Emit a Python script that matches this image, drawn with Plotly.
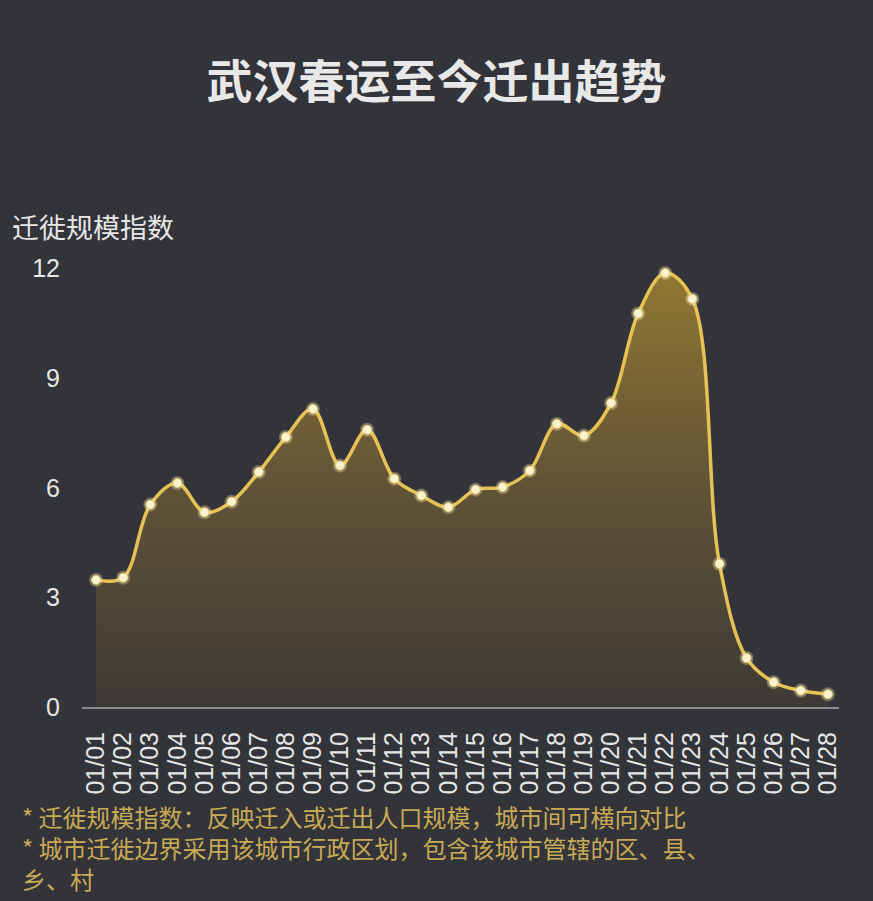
import plotly.graph_objects as go

# Wuhan outbound migration index, Jan 1 - Jan 28
dates = ['01/01', '01/02', '01/03', '01/04', '01/05', '01/06', '01/07',
         '01/08', '01/09', '01/10', '01/11', '01/12', '01/13', '01/14',
         '01/15', '01/16', '01/17', '01/18', '01/19', '01/20', '01/21',
         '01/22', '01/23', '01/24', '01/25', '01/26', '01/27', '01/28']
index_values = [3.48, 3.54, 5.54, 6.13, 5.33, 5.62, 6.43,
                7.39, 8.16, 6.61, 7.59, 6.25, 5.79, 5.47,
                5.95, 6.02, 6.47, 7.75, 7.43, 8.32, 10.77,
                11.88, 11.17, 3.92, 1.34, 0.68, 0.45, 0.35]
y_ticks = [0, 3, 6, 9, 12]

title_text = '武汉春运至今迁出趋势'
y_title = '迁徙规模指数'
notes = [
    '* 迁徙规模指数：反映迁入或迁出人口规模，城市间可横向对比',
    '* 城市迁徙边界采用该城市行政区划，包含该城市管辖的区、县、',
    '乡、村',
]

bg = '#333439'
cjk = 'Noto Sans CJK SC'
num_font = 'Liberation Sans, Arial, sans-serif'

fig = go.Figure()

# filled area with vertical gold gradient
fig.add_trace(go.Scatter(
    x=dates,
    y=index_values,
    mode='lines',
    line=dict(color='#e6c254', width=3.5, shape='spline', smoothing=1.0),
    fill='tozeroy',
    fillgradient=dict(
        type='vertical',
        start=0,
        stop=12,
        colorscale=[[0, '#3d3a36'], [0.5, '#605337'], [1, '#917833']],
    ),
    hoverinfo='skip',
    showlegend=False,
))

# glow behind markers
fig.add_trace(go.Scatter(
    x=dates,
    y=index_values,
    mode='markers',
    marker=dict(size=14, color='rgba(245,230,160,0.35)'),
    hoverinfo='skip',
    showlegend=False,
))

fig.add_trace(go.Scatter(
    x=dates,
    y=index_values,
    mode='markers',
    marker=dict(size=9, color='#f8f2cf', line=dict(color='#e9d27e', width=1)),
    hovertemplate='%{x}: %{y:.2f}<extra></extra>',
    showlegend=False,
))

fig.update_layout(
    width=873,
    height=901,
    paper_bgcolor=bg,
    plot_bgcolor=bg,
    margin=dict(l=82, r=34, t=254, b=194),
    title=dict(
        text='<b>' + title_text + '</b>',
        x=0.5,
        xanchor='center',
        y=1 - 82 / 901,
        yanchor='middle',
        font=dict(family=cjk, size=46, color='#e8e8e8'),
    ),
)

fig.update_xaxes(
    type='category',
    range=[-0.52, 27.41],
    tickmode='array',
    tickvals=dates,
    ticktext=dates,
    showgrid=False,
    zeroline=False,
    showline=True,
    linecolor='#8a8b90',
    linewidth=2,
    ticks='outside',
    ticklen=13,
    tickcolor=bg,
    tickangle=-90,
    tickfont=dict(family=num_font, size=25, color='#e6e6e6'),
)

fig.update_yaxes(
    range=[0, 12.4],
    tickvals=y_ticks,
    showgrid=False,
    zeroline=False,
    showline=False,
    ticks='outside',
    ticklen=16,
    tickcolor=bg,
    tickfont=dict(family=num_font, size=25, color='#e6e6e6'),
)

fig.add_annotation(
    text=y_title,
    xref='paper', yref='paper',
    x=(10 - 82) / 757, y=(707 - 227) / 453,
    xanchor='left', yanchor='middle',
    showarrow=False,
    font=dict(family=cjk, size=27, color='#e6e6e6'),
)

# footnotes as one block under the date labels
fig.add_annotation(
    text='<br>'.join(notes),
    xref='paper', yref='paper',
    x=(20 - 82) / 757, y=(707 - 797) / 453,
    xanchor='left', yanchor='top',
    align='left',
    showarrow=False,
    font=dict(family=cjk, size=24, color='#c9aa55'),
)

fig.write_html('out.html', config={'displayModeBar': False},
               post_script="document.body.style.margin='0';")
